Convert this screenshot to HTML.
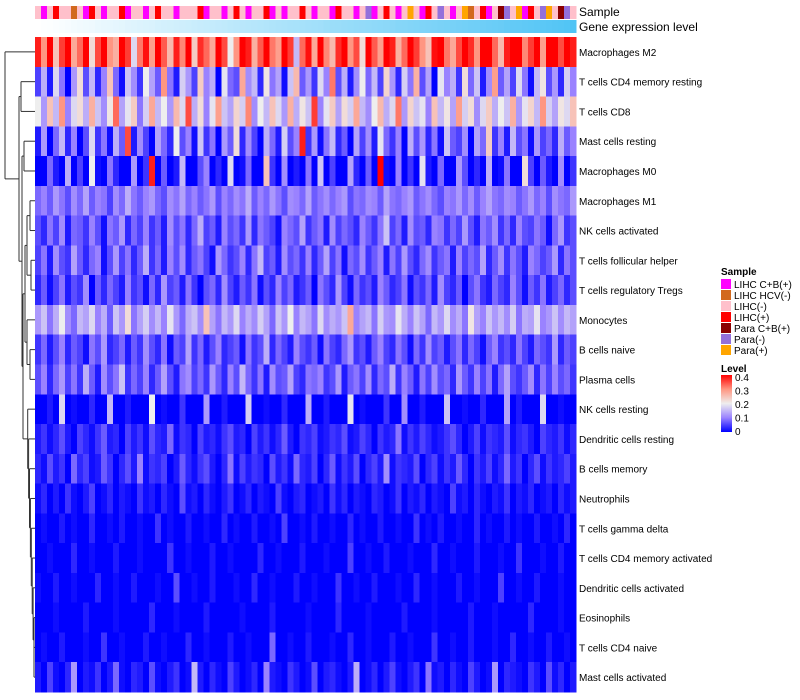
<!DOCTYPE html>
<html><head><meta charset="utf-8"><style>
body{margin:0;background:#fff;width:800px;height:700px;overflow:hidden;font-family:"Liberation Sans",sans-serif}
svg{display:block}
</style></head><body>
<svg id="chart" width="800" height="700" xmlns="http://www.w3.org/2000/svg">
<defs>
<linearGradient id="lvl" x1="0" y1="1" x2="0" y2="0">
<stop offset="0" stop-color="#0000ff"/><stop offset="0.25" stop-color="#9a82ff"/><stop offset="0.5" stop-color="#eeeeee"/><stop offset="0.75" stop-color="#ff9682"/><stop offset="1" stop-color="#ff0000"/>
</linearGradient>
</defs>
<g id="heat" shape-rendering="crispEdges"></g>
<g id="ann" shape-rendering="crispEdges"></g>
<g id="dend"></g>
<g id="labels" font-size="10" fill="#000"></g>
<text x="579" y="16" font-size="12">Sample</text>
<text x="579" y="31" font-size="12">Gene expression level</text>
<g id="legend" font-size="10">
<text x="721" y="275" font-weight="bold">Sample</text>
<text x="721" y="372" font-weight="bold">Level</text>
<rect x="721" y="375" width="11" height="57" fill="url(#lvl)"/>
</g>
</svg>
<script>
const rowNames=["Macrophages M2","T cells CD4 memory resting","T cells CD8","Mast cells resting","Macrophages M0","Macrophages M1","NK cells activated","T cells follicular helper","T cells regulatory  Tregs","Monocytes","B cells naive","Plasma cells","NK cells resting","Dendritic cells resting","B cells memory","Neutrophils","T cells gamma delta","T cells CD4 memory activated","Dendritic cells activated","Eosinophils","T cells CD4 naive","Mast cells activated"];
const m2=[38,30,42,25,36,45,28,33,40,22,35,41,30,27,44,36,18,32,39,29,43,34,26,38,31,45,24,37,33,28,41,35,20,30,44,38,27,34,40,32,29,42,36,15,33,39,28,45,31,26,37,43,30,35,22,40,34,29,44,38,27,33,41,36,30,25,39,45,32,28,35,42,37,30,44,40,33,26,38,45,41,31,36,43,29,40,44,35,42,38];
const cd4mr=[5,14,2,18,9,0,12,22,6,15,3,10,25,8,1,16,11,4,20,13,7,30,9,2,17,12,5,24,10,14,0,19,8,6,28,11,15,3,21,9,13,1,16,26,7,12,4,18,10,32,6,14,2,11,20,8,15,5,23,12,3,17,9,27,6,13,0,19,10,14,4,22,8,16,2,11,29,7,13,5,18,9,1,15,21,6,12,3,17,10];
const cd8=[20,12,25,15,30,10,18,22,14,27,16,11,21,33,13,19,24,9,17,28,15,20,12,26,18,35,14,22,10,19,29,16,13,23,17,31,11,20,15,25,18,12,27,14,21,16,36,10,19,24,13,22,17,28,15,11,20,26,14,18,32,12,23,16,19,10,25,15,21,13,29,17,22,11,18,24,14,20,16,27,12,19,23,15,30,17,13,21,18,25];
const mastR=[2,12,0,8,15,3,10,0,6,18,4,9,1,14,7,35,2,11,5,0,13,8,3,20,6,10,1,16,4,9,0,12,7,22,3,11,5,0,14,8,2,17,6,10,38,4,12,1,9,15,3,7,0,13,5,11,2,19,8,4,10,0,14,6,12,3,9,1,16,7,5,11,0,13,8,24,4,10,2,15,6,9,1,12,5,8,3,14,7,10];
const m0=[0,0,8,2,0,14,0,5,0,20,1,0,9,3,0,0,12,0,4,38,0,7,0,2,15,0,0,6,10,0,3,0,18,0,1,8,0,0,25,4,0,11,0,2,0,9,0,16,0,5,0,0,13,3,0,7,0,40,1,0,10,0,4,0,19,2,0,8,0,0,12,6,0,3,0,14,0,1,9,0,0,22,5,0,7,2,0,11,0,4];
const m1=[8,10,7,12,9,6,11,8,13,7,10,9,5,11,8,14,9,7,10,12,8,6,11,9,13,8,10,7,9,12,6,10,8,11,9,14,7,10,8,12,9,6,11,10,8,13,7,9,11,8,10,12,6,9,8,11,10,7,13,9,8,10,12,7,9,11,8,6,10,9,12,8,11,7,10,13,9,8,11,10,7,9,12,8,10,6,11,9,8,12];
const nkA=[6,3,9,5,11,2,8,7,4,10,6,1,9,7,12,3,8,5,10,4,7,2,11,6,9,3,8,14,5,7,2,10,6,8,4,12,3,9,7,5,1,10,8,6,13,4,7,9,2,11,5,8,6,3,10,7,4,9,16,5,8,2,11,6,7,3,10,9,4,8,5,12,6,2,9,7,11,4,8,3,10,6,5,9,7,1,8,12,4,6];
const tfh=[5,9,2,11,6,4,13,7,3,8,10,1,6,12,5,9,3,7,14,4,8,2,10,6,11,3,7,9,5,1,12,8,4,6,10,3,9,15,5,7,2,11,6,8,4,10,3,7,13,5,9,1,8,6,11,4,7,10,2,9,5,12,6,3,8,11,4,7,9,2,10,5,8,6,13,3,7,11,4,9,6,2,10,8,5,7,12,3,9,6];
const treg=[3,7,1,5,9,2,6,4,11,0,7,3,8,5,2,10,4,6,1,8,3,12,5,7,2,9,4,0,6,8,3,11,5,2,7,4,9,1,6,3,10,5,8,2,4,7,0,9,6,3,12,5,1,8,4,6,2,10,7,3,5,9,1,6,4,8,2,11,5,3,7,0,6,9,4,2,8,5,3,10,6,1,7,4,9,2,5,8,3,6];
const mono=[12,16,9,14,20,11,8,15,13,18,10,14,7,16,12,22,9,13,17,11,15,10,19,12,8,14,16,11,25,13,9,15,12,18,10,14,11,17,13,8,16,12,20,10,15,13,9,18,11,14,12,16,28,10,13,15,9,17,12,11,19,14,10,16,13,8,15,12,18,11,14,9,21,13,10,16,12,15,11,17,9,14,13,19,10,12,16,11,15,13];
const bN=[4,8,2,6,10,3,7,5,1,9,6,12,3,5,8,2,7,4,11,6,3,9,1,7,5,13,4,8,2,6,10,3,5,7,1,9,4,6,14,3,8,5,2,10,6,4,7,1,9,5,3,8,12,4,6,2,7,10,5,3,9,6,1,8,4,11,5,7,2,6,9,3,8,5,1,7,10,4,6,3,9,5,2,8,6,4,12,3,7,5];
const plasma=[6,10,3,8,12,5,9,4,14,7,2,11,6,9,16,4,8,5,10,3,7,13,6,2,9,11,5,8,4,12,7,3,10,6,15,8,4,9,2,11,6,7,13,5,3,9,8,10,4,6,12,2,7,9,5,11,3,8,6,14,4,10,7,2,9,5,11,6,8,3,12,7,4,10,5,9,2,8,13,6,4,7,11,3,9,5,10,6,8,4];
const nkR=[0,0,2,0,18,0,1,0,0,3,0,0,15,0,0,2,0,0,0,20,0,1,0,0,4,0,0,0,12,0,0,2,0,0,0,17,0,0,1,0,0,3,0,0,0,14,0,0,2,0,0,0,19,0,1,0,0,0,4,0,0,11,0,0,2,0,0,0,16,0,0,1,0,0,3,0,0,0,13,0,2,0,0,0,18,0,0,1,0,0];
const dcR=[2,4,1,3,6,2,0,5,3,1,4,7,2,3,0,5,2,4,1,6,3,2,8,1,4,3,0,5,2,3,1,4,6,2,3,0,5,2,4,1,3,7,2,0,4,3,5,1,2,4,3,6,1,2,5,3,0,4,2,3,9,1,4,2,5,3,1,2,4,6,3,0,2,5,1,4,3,2,6,1,3,4,2,0,5,3,2,4,1,3];
const bM=[3,1,6,2,4,0,8,3,5,1,2,7,4,0,3,6,2,10,1,4,3,5,0,2,7,3,1,4,6,2,0,3,9,1,5,2,4,3,0,6,2,4,1,8,3,2,5,0,3,7,1,4,2,6,0,3,5,2,11,1,4,3,2,6,0,3,5,1,4,2,7,3,0,4,2,5,1,3,8,2,4,0,3,6,1,4,2,3,5,2];
const neut=[1,3,0,2,0,4,1,0,2,5,0,1,3,0,2,1,0,4,1,2,0,3,1,0,6,1,2,0,3,1,0,2,4,0,1,3,0,2,1,0,5,1,0,2,3,0,1,2,0,4,1,3,0,2,1,0,3,2,0,1,4,0,2,1,3,0,2,1,0,5,1,2,0,3,1,0,2,1,4,0,2,1,3,0,1,2,0,3,1,2];
const gd=[0,1,0,0,2,0,1,0,0,3,0,0,1,0,2,0,0,1,0,0,4,0,1,0,0,2,0,0,1,0,0,3,0,1,0,0,2,0,0,1,0,5,0,0,1,0,2,0,0,1,0,0,3,0,1,0,0,2,0,0,1,0,0,4,0,1,0,2,0,0,1,0,0,3,0,1,0,0,2,0,1,0,0,2,0,0,1,0,3,0];
const cd4mA=[0,0,1,0,0,0,3,0,0,1,0,0,0,2,0,0,0,1,0,0,0,0,4,0,0,1,0,0,0,2,0,0,1,0,0,0,0,3,0,0,1,0,0,0,2,0,0,0,1,0,0,0,5,0,0,1,0,0,2,0,0,0,1,0,0,0,3,0,0,1,0,0,0,2,0,0,0,1,0,0,4,0,0,0,1,0,0,2,0,0];
const dcA=[1,0,0,2,0,0,1,0,0,0,3,0,0,1,0,0,2,0,0,0,1,0,0,6,0,0,1,0,0,2,0,0,0,1,0,0,3,0,0,1,0,0,0,2,0,0,1,0,0,0,4,0,0,1,0,0,2,0,0,0,1,0,0,3,0,0,1,0,0,0,2,0,0,1,0,0,0,5,0,0,1,0,0,2,0,0,0,1,0,0];
const eos=[0,0,0,1,0,0,0,0,2,0,0,0,0,1,0,0,0,0,0,3,0,0,0,1,0,0,0,0,2,0,0,0,0,0,1,0,0,0,0,2,0,0,0,0,0,1,0,0,0,0,3,0,0,0,0,1,0,0,0,0,0,2,0,0,0,0,1,0,0,0,0,0,2,0,0,0,1,0,0,0,0,0,3,0,0,0,0,1,0,0];
const cd4N=[0,1,0,0,2,0,0,0,1,0,0,4,0,0,1,0,0,0,2,0,0,1,0,0,0,3,0,0,1,0,0,0,2,0,0,1,0,0,0,8,0,0,1,0,0,2,0,0,0,1,0,0,3,0,0,1,0,0,0,2,0,0,1,0,0,0,4,0,0,1,0,0,2,0,0,0,1,0,0,3,0,0,1,0,0,2,0,0,1,0];
const mastA=[2,0,5,1,0,3,12,0,2,1,4,0,2,8,1,0,3,2,0,6,1,0,2,4,0,1,15,2,0,3,1,0,5,2,0,1,3,0,10,2,1,0,4,2,0,1,6,0,2,3,1,0,2,14,0,1,3,0,2,5,1,0,2,4,0,9,1,2,0,3,1,0,5,2,0,1,12,0,3,2,1,0,4,2,0,6,1,3,0,2];
const rows=[m2,cd4mr,cd8,mastR,m0,m1,nkA,tfh,treg,mono,bN,plasma,nkR,dcR,bM,neut,gd,cd4mA,dcA,eos,cd4N,mastA];
const sampleCats=["LIHC C+B(+)","LIHC HCV(-)","LIHC(-)","LIHC(+)","Para C+B(+)","Para(-)","Para(+)"];
const sampleCols=["#ff00ff","#d2691e","#ffc0cb","#ff0000","#8b0000","#9370db","#ffa500"];
const samples=[2,0,2,3,2,2,1,2,0,3,2,0,2,2,3,0,2,2,0,2,3,2,2,0,2,2,2,3,0,2,2,0,2,3,2,0,2,2,3,0,2,0,2,2,3,2,0,2,2,0,3,2,2,0,2,5,0,2,3,2,0,2,6,2,0,3,2,5,2,0,2,6,1,2,3,0,2,4,5,2,6,0,3,2,5,6,2,4,5,2];
const geneLevel=[0,1,2,3,4,5,7,8,9,10,12,13,14,15,16,18,19,20,21,22,24,25,26,27,28,29,31,32,33,34,35,36,38,39,40,41,42,43,44,46,47,48,49,50,51,52,53,54,56,57,58,59,60,61,62,63,64,65,66,67,69,70,71,72,73,74,75,76,77,78,79,80,81,82,83,84,85,86,88,89,90,91,92,93,94,95,96,97,99,100];
const levelTicks=[0,0.1,0.2,0.3,0.4];

const NS="http://www.w3.org/2000/svg";
const X0=35,X1=576,Y0=37,Y1=692;
const nCol=rows[0].length;
const cw=(X1-X0)/nCol, rh=(Y1-Y0)/rows.length;
const xPos=j=>X0+j*cw;
const yPos=i=>Y0+i*rh;
function lerp(a,b,t){return Math.round(a+(b-a)*t);}
const stops=[[0,[0,0,255]],[0.25,[154,130,255]],[0.5,[238,238,238]],[0.75,[255,150,130]],[1,[255,0,0]]];
function heatColor(v){
  const t=Math.max(0,Math.min(0.4,v/100))/0.4;
  for(let k=1;k<stops.length;k++){
    if(t<=stops[k][0]){const a=stops[k-1],b=stops[k];const u=(t-a[0])/(b[0]-a[0]);
      return `rgb(${lerp(a[1][0],b[1][0],u)},${lerp(a[1][1],b[1][1],u)},${lerp(a[1][2],b[1][2],u)})`;}
  }
  return 'rgb(255,0,0)';
}
function geneColor(v){const t=v/100;return `rgb(${lerp(255,80,t)},${lerp(255,196,t)},${lerp(255,245,t)})`;}
const heat=document.getElementById('heat');
rows.forEach((r,i)=>{
  r.forEach((v,j)=>{
    const el=document.createElementNS(NS,'rect');
    el.setAttribute('x',xPos(j));el.setAttribute('y',yPos(i));
    el.setAttribute('width',cw+0.6);el.setAttribute('height',rh+0.6);
    el.setAttribute('fill',heatColor(v));
    
    
    heat.appendChild(el);
  });
});
const ann=document.getElementById('ann');
samples.forEach((c,j)=>{
  const el=document.createElementNS(NS,'rect');
  el.setAttribute('x',xPos(j));el.setAttribute('y',6);el.setAttribute('width',cw+0.6);el.setAttribute('height',13);
  el.setAttribute('fill',sampleCols[c]);
  
  
  ann.appendChild(el);
});
geneLevel.forEach((v,j)=>{
  const el=document.createElementNS(NS,'rect');
  el.setAttribute('x',xPos(j));el.setAttribute('y',20);el.setAttribute('width',cw+0.6);el.setAttribute('height',13);
  el.setAttribute('fill',geneColor(v));
  
  
  ann.appendChild(el);
});
const labels=document.getElementById('labels');
rowNames.forEach((n,i)=>{
  const t=document.createElementNS(NS,'text');
  t.setAttribute('x',579);t.setAttribute('y',yPos(i)+rh/2+4);t.textContent=n;
  t.setAttribute('xml:space','preserve');
  
  
  labels.appendChild(t);
});
const legend=document.getElementById('legend');
sampleCats.forEach((c,k)=>{
  const r=document.createElementNS(NS,'rect');
  r.setAttribute('x',721);r.setAttribute('y',279+k*11);r.setAttribute('width',10);r.setAttribute('height',10);r.setAttribute('fill',sampleCols[k]);
  
  
  legend.appendChild(r);
  const t=document.createElementNS(NS,'text');
  t.setAttribute('x',734);t.setAttribute('y',288+k*11);t.textContent=c;
  
  
  legend.appendChild(t);
});
levelTicks.forEach(v=>{
  const y=432-(v/0.4)*54;
  const t=document.createElementNS(NS,'text');
  t.setAttribute('x',735);t.setAttribute('y',y+3);t.textContent=String(v);
  
  
  legend.appendChild(t);
});
const dend=document.getElementById('dend');
function line(x1,y1,x2,y2){
  const l=document.createElementNS(NS,'path');
  l.setAttribute('d',`M${x1} ${y1}L${x2} ${y2}`);
  l.setAttribute('stroke','#333');l.setAttribute('fill','none');l.setAttribute('stroke-width','1');
  
  
  dend.appendChild(l);
}
const leaf=i=>({x:35,y:yPos(i)+rh/2});
function join(a,b,x){line(a.x,a.y,x,a.y);line(b.x,b.y,x,b.y);line(x,a.y,x,b.y);return {x:x,y:(a.y+b.y)/2};}
let n1=join(leaf(1),leaf(2),21);
let n2=join(leaf(3),leaf(4),24);
let a=join(leaf(5),leaf(6),30),b=join(leaf(7),leaf(8),31),c=join(a,b,27);
let d=join(leaf(9),join(leaf(10),leaf(11),30),27);
let e=join(c,d,25);
let f=join(leaf(20),leaf(21),34);
for(let i=19;i>=12;i--){f=join(leaf(i),f,34-(19-i)*0.9);}
let g=join(e,f,23);
let n3=join(n2,g,22);
let n4=join(n1,n3,19);
join(leaf(0),n4,5);
</script>
</body></html>
